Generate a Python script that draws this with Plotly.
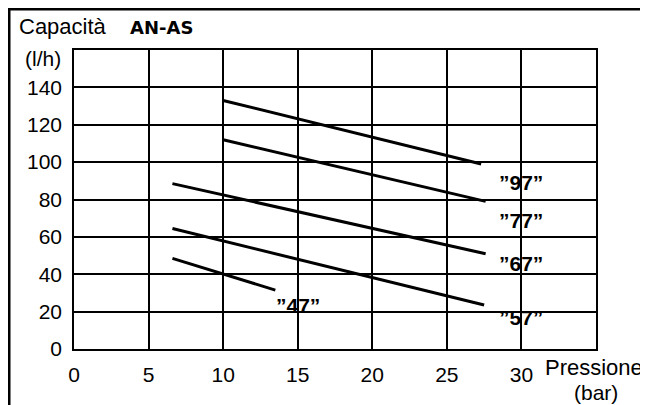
import plotly.graph_objects as go

# pump capacity vs pressure, one line per model
models = ["97", "77", "67", "57", "47"]
pressure_start = [10, 10, 6.6, 6.6, 6.6]
pressure_end = [27.3, 27.6, 27.6, 27.5, 13.5]
flow_start = [133, 112, 88.5, 64.5, 48.5]
flow_end = [99, 79, 51, 23.5, 31.5]

label_x = [30, 30, 30, 30, 15]
label_y = [89, 69, 46, 17, 23.5]

x_ticks = [0, 5, 10, 15, 20, 25, 30]
y_ticks = [0, 20, 40, 60, 80, 100, 120, 140]

FONT = "Liberation Sans, Arial, sans-serif"

fig = go.Figure()
for name, x0, x1, y0, y1 in zip(models, pressure_start, pressure_end, flow_start, flow_end):
    fig.add_trace(go.Scatter(x=[x0, x1], y=[y0, y1], mode="lines", name=name,
                             line=dict(color="black", width=3), showlegend=False))

for name, lx, ly in zip(models, label_x, label_y):
    fig.add_annotation(x=lx, y=ly, text=f"<b>\u201d{name}\u201d</b>", showarrow=False,
                       font=dict(family=FONT, size=21, color="black"))

axis_style = dict(showgrid=True, gridcolor="black", gridwidth=1.5, zeroline=False,
                  showline=True, linecolor="black", linewidth=1.5, mirror=True,
                  ticks="", ticklabelstandoff=6, automargin=False,
                  tickfont=dict(family=FONT, size=21, color="black"))
fig.update_xaxes(range=[0, 35], tickvals=x_ticks, **axis_style)
fig.update_yaxes(range=[0, 160], tickvals=y_ticks, **axis_style)

# titles placed as free text, like the original scan
fig.add_annotation(xref="paper", yref="paper", x=-0.109, y=1.08, xanchor="left",
                   yanchor="middle", text="Capacità", showarrow=False,
                   font=dict(family=FONT, size=22, color="black"))
fig.add_annotation(xref="paper", yref="paper", x=0.103, y=1.074, xanchor="left",
                   yanchor="middle", text="<b>AN-AS</b>", showarrow=False,
                   font=dict(family="DejaVu Sans, sans-serif", size=18, color="black"))
fig.add_annotation(xref="paper", yref="paper", x=-0.021, y=0.973, xanchor="right",
                   yanchor="middle", text="(l/h)", showarrow=False,
                   font=dict(family=FONT, size=21, color="black"))
fig.add_annotation(xref="paper", yref="paper", x=0.898, y=-0.0635, xanchor="left",
                   yanchor="middle", text="Pressione", showarrow=False,
                   font=dict(family=FONT, size=22, color="black"))
fig.add_annotation(xref="paper", yref="paper", x=0.954, y=-0.147, xanchor="left",
                   yanchor="middle", text="(bar)", showarrow=False,
                   font=dict(family=FONT, size=21, color="black"))

# frame of the scanned page: top and left edges
fig.add_shape(type="line", xref="paper", yref="paper", x0=-0.127, x1=1.11, y0=1.137, y1=1.137,
              line=dict(color="black", width=3))
fig.add_shape(type="line", xref="paper", yref="paper", x0=-0.1245, x1=-0.1245, y0=1.137, y1=-0.2,
              line=dict(color="black", width=3))

# the page body adds an 8px offset, so the figure is 8px smaller on each axis
fig.update_layout(width=640, height=397, margin=dict(l=66, r=52, t=42, b=56),
                  plot_bgcolor="white", paper_bgcolor="white")

fig.write_html("out.html")
